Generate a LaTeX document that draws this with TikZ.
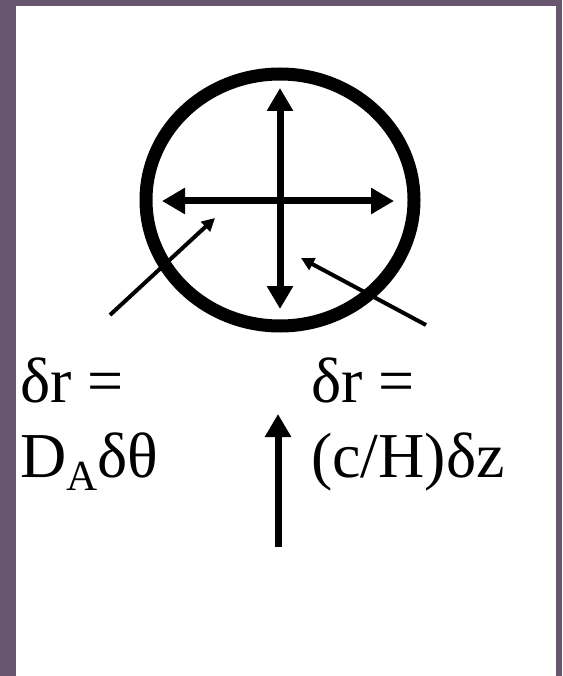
\documentclass[tikz,border=0pt]{standalone}
\usepackage{fontspec}
\setmainfont{Liberation Serif}
\usetikzlibrary{arrows.meta,positioning,shapes.geometric}
\definecolor{slidebg}{RGB}{104,86,110}

\tikzset{
  bigtext/.style={font=\fontsize{64}{76}\selectfont, inner sep=0pt, anchor=base west},
  thickarrow/.style={line width=7pt, >={Triangle[length=23pt,width=25pt]}},
  pointer/.style={line width=4pt, >={Triangle[length=13pt,width=13pt]}},
}

\begin{document}
\begin{tikzpicture}[x=1pt, y=-1pt]
\useasboundingbox (0,0) rectangle (562,676);
% slide frame
\fill[slidebg] (0,0) rectangle (562,676);
\fill[white] (16,6) rectangle (556,676);

% the ring and the cross
\node (ring) [ellipse, draw, line width=13pt, inner sep=0pt,
  minimum width=268pt, minimum height=252pt] at (280,200) {};
\coordinate (crossW) at (162,201);
\coordinate (crossE) at (394,201);
\coordinate (crossN) at (280,88);
\coordinate (crossS) at (280,309);
\draw[thickarrow, <->] (crossW) -- (crossE);
\draw[thickarrow, <->] (crossN) -- (crossS);

% labels
\node (angleA) [bigtext] at (20,402) {δr =};
\node (angleB) [bigtext] at (20,477) {D\raisebox{-13pt}{\fontsize{43}{43}\selectfont A}δθ};
\node (zedA) [bigtext] at (311,402) {δr =};
\node (zedB) [bigtext] at (311,477) {(c/H)δz};

% pointers
\coordinate (angleTail) at (110,315);
\coordinate (angleTip) at (215,218);
\coordinate (zedTail) at (426,325);
\coordinate (zedTip) at (301,258);
\draw[pointer, ->] (angleTail) -- (angleTip);
\draw[pointer, ->] (zedTail) -- (zedTip);

% line of sight
\coordinate (losFoot) at (278,547);
\coordinate (losTip) at (278,414);
\draw[thickarrow, ->] (losFoot) -- (losTip);
\end{tikzpicture}
\end{document}
